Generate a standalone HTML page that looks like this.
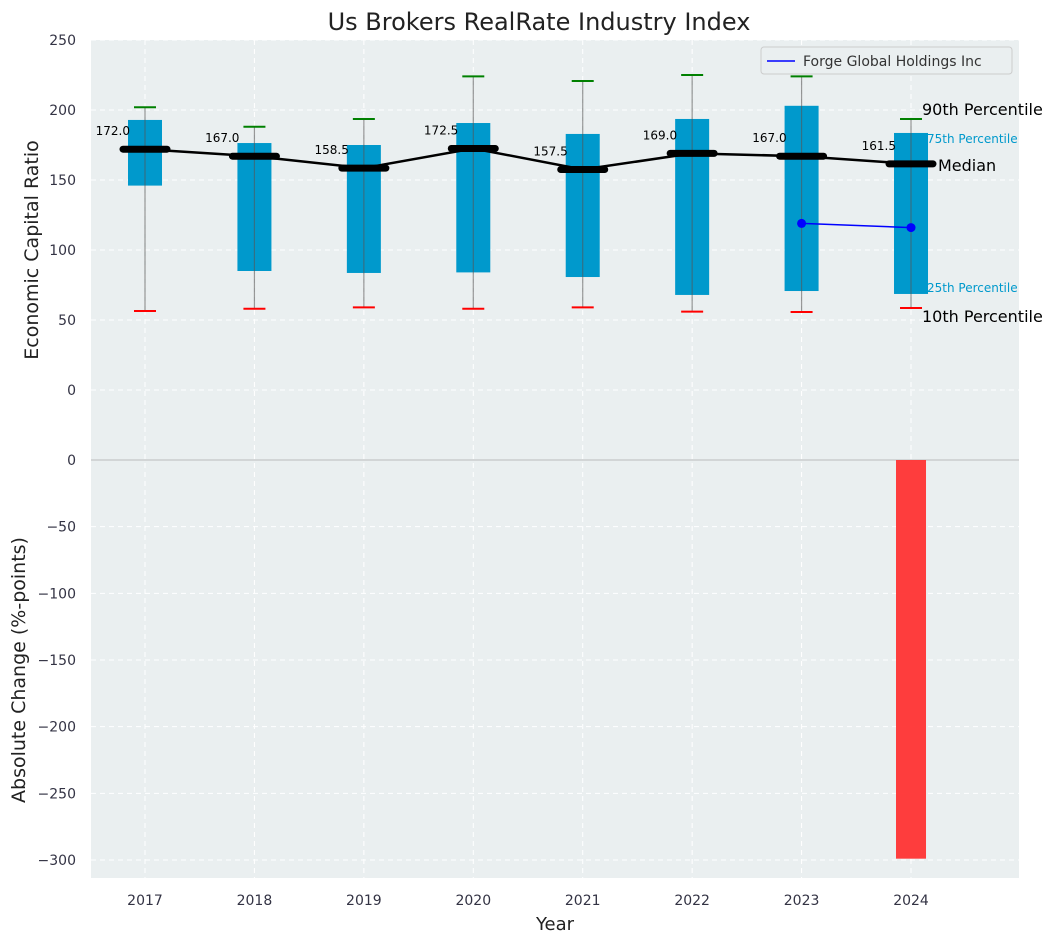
<!DOCTYPE html>
<html><head><meta charset="utf-8"><style>
body{margin:0;background:#fff;font-family:"Liberation Sans","DejaVu Sans",sans-serif}
svg text{font-family:"DejaVu Sans","Liberation Sans",sans-serif}
</style></head><body>
<svg id="c" width="1057" height="942" xmlns="http://www.w3.org/2000/svg"></svg>
<script>
const years=[2017,2018,2019,2020,2021,2022,2023,2024];
const p10=[56.4,58,59,58,59,56,55.7,58.6];
const p25=[146,85,83.6,84,80.7,67.9,70.7,68.6];
const med=[172.0,167.0,158.5,172.5,157.5,169.0,167.0,161.5];
const p75=[192.9,176.4,175,190.7,182.9,193.6,203,183.6];
const p90=[202,188,193.6,224,220.7,225,224,193.6];
const forgeYears=[2023,2024];
const forgeVals=[119,116];
const changeYears=[2024];
const changeVals=[-299];
const topTicks=[0,50,100,150,200,250];
const botTicks=[0,-50,-100,-150,-200,-250,-300];

const NS="http://www.w3.org/2000/svg";
const svg=document.getElementById('c');
const L=91,R=1019;
const X=v=>145+(v-2017)*109.43;
const Y1=v=>390-v*1.4;
const Y2=v=>460-v*(400/300);
function el(t,a,txt){const e=document.createElementNS(NS,t);for(const k in a)e.setAttribute(k,a[k]);if(txt!==undefined)e.textContent=txt;svg.appendChild(e);return e;}
let e;
e=el('text',{x:539,y:30,'text-anchor':'middle','font-size':24,fill:'#222'},'Us Brokers RealRate Industry Index');

e=el('rect',{x:L,y:40,width:R-L,height:420,fill:'#eaeff0'});

e=el('rect',{x:L,y:460,width:R-L,height:418,fill:'#eaeff0'});

years.forEach(y=>{
 e=el('line',{x1:X(y),x2:X(y),y1:40,y2:878,stroke:'#fff','stroke-dasharray':'5,4','stroke-width':1});
 
 e=el('text',{x:X(y),y:905,'text-anchor':'middle','font-size':14,fill:'#334'},y);
 
});
topTicks.forEach(t=>{
 e=el('line',{x1:L,x2:R,y1:Y1(t),y2:Y1(t),stroke:'#fff','stroke-dasharray':'5,4'});
 
 e=el('text',{x:76,y:Y1(t)+5,'text-anchor':'end','font-size':14,fill:'#334'},t);
 
});
botTicks.forEach(t=>{
 e=el('line',{x1:L,x2:R,y1:Y2(t),y2:Y2(t),stroke:t===0?'#bbb':'#fff','stroke-dasharray':t===0?'':'5,4'});
 
 e=el('text',{x:76,y:Y2(t)+5,'text-anchor':'end','font-size':14,fill:'#334'},t<0?'\u2212'+(-t):t);
 
});
years.forEach((y,i)=>{
 const x=X(y);
 e=el('rect',{x:x-17,y:Y1(p75[i]),width:34,height:Y1(p25[i])-Y1(p75[i]),fill:'#0099cc'});
 
 e=el('line',{x1:x,x2:x,y1:Y1(p90[i]),y2:Y1(p10[i]),stroke:'#555','stroke-opacity':0.6,'stroke-width':1.2});
 
 e=el('line',{x1:x-11,x2:x+11,y1:Y1(p90[i]),y2:Y1(p90[i]),stroke:'green','stroke-width':2});
 
 e=el('line',{x1:x-11,x2:x+11,y1:Y1(p10[i]),y2:Y1(p10[i]),stroke:'red','stroke-width':2});
 
});
e=el('polyline',{points:years.map((y,i)=>X(y)+','+Y1(med[i])).join(' '),fill:'none',stroke:'#000','stroke-width':2.5});

years.forEach((y,i)=>{
 const x=X(y);
 e=el('line',{x1:x-22,x2:x+22,y1:Y1(med[i]),y2:Y1(med[i]),stroke:'#000','stroke-width':7,'stroke-linecap':'round'});
 
 e=el('text',{x:x-15,y:Y1(med[i])-14,'text-anchor':'end','font-size':12,fill:'#000'},med[i].toFixed(1));
 
});
e=el('polyline',{points:forgeYears.map((y,i)=>X(y)+','+Y1(forgeVals[i])).join(' '),fill:'none',stroke:'blue','stroke-width':1.5});

forgeYears.forEach((y,i)=>{e=el('circle',{cx:X(y),cy:Y1(forgeVals[i]),r:4.5,fill:'blue'});
 });
changeYears.forEach((y,i)=>{
 e=el('rect',{x:X(y)-15,y:Y2(0),width:30,height:Y2(changeVals[i])-Y2(0),fill:'#ff3333','fill-opacity':0.95});
 
});
const xl=X(2024);
[['90th Percentile',p90[7],16,'#000',11,-4,'label-90th'],['75th Percentile',p75[7],12,'#0099cc',16,10,'label-75th'],['Median',med[7],16,'#000',27,7,'label-median'],['25th Percentile',p25[7],12,'#0099cc',16,-2,'label-25th'],['10th Percentile',p10[7],16,'#000',11,14,'label-10th']].forEach(a=>{
 e=el('text',{x:xl+a[4],y:Y1(a[1])+a[5],'font-size':a[2],fill:a[3]},a[0]);
 
});
e=el('rect',{x:761,y:47,width:251,height:27,rx:3,fill:'#eaeff0',stroke:'#ccc'});

e=el('line',{x1:767,x2:795,y1:61,y2:61,stroke:'blue','stroke-width':1.5});

e=el('text',{x:803,y:66,'font-size':14,fill:'#333'},'Forge Global Holdings Inc');

e=el('text',{x:555,y:930,'text-anchor':'middle','font-size':18,fill:'#222'},'Year');

e=el('text',{x:0,y:0,'text-anchor':'middle','font-size':19,fill:'#222',transform:'translate(38,250) rotate(-90)'},'Economic Capital Ratio');

e=el('text',{x:0,y:0,'text-anchor':'middle','font-size':19,fill:'#222',transform:'translate(25,670) rotate(-90)'},'Absolute Change (%-points)');

</script>
</body></html>
